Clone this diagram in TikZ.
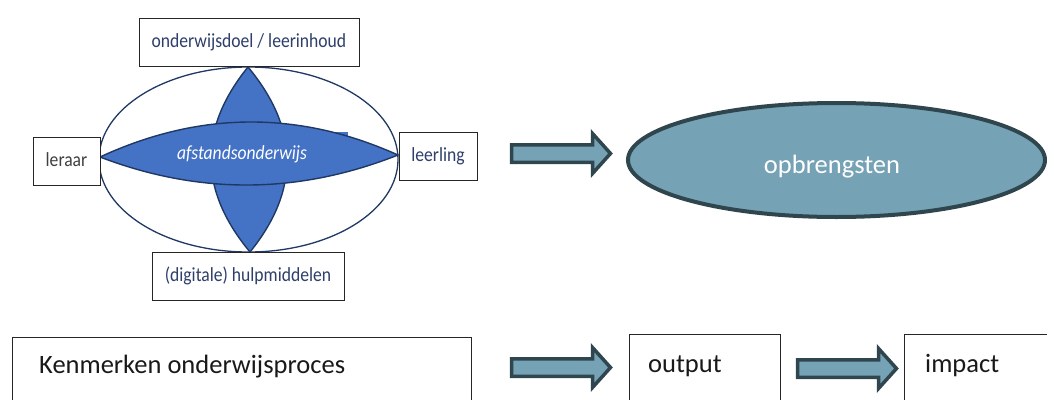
\documentclass[tikz,border=0pt]{standalone}
\usepackage{fontspec}
\setmainfont{Carlito}
\newfontfamily\condfont[FakeStretch=0.88]{Carlito}
\usetikzlibrary{shapes.geometric}
\definecolor{navy}{HTML}{203864}
\definecolor{lensblue}{HTML}{4472C4}
\definecolor{slate}{HTML}{76A2B5}
\definecolor{slatedark}{HTML}{2F464E}
\definecolor{boxtext}{HTML}{2F3F6B}
\tikzset{
  diabox/.style={draw=black!85, line width=1pt, fill=white, inner sep=0pt,
    font=\condfont\fontsize{20}{24}\selectfont, text=boxtext,
    text height=14pt, text depth=4pt},
  plainbox/.style={draw=black!85, line width=1pt, fill=white, inner sep=0pt, anchor=north west},
  bigtext/.style={anchor=base west, inner sep=0pt, font=\fontsize{26.5}{30}\selectfont, text=black!90},
  arrowshape/.style={fill=slate, draw=slatedark, line width=3.5pt, line join=miter},
  blockarrow/.pic={\draw[arrowshape] (0,-8.75) -- (81,-8.75) -- (81,-20) -- (99,0) -- (81,20) -- (81,8.75) -- (0,8.75) -- cycle;}
}
\begin{document}
\begin{tikzpicture}[x=1pt,y=-1pt]
\useasboundingbox (0,0) rectangle (1047,399);
\clip (0,0) rectangle (1047,399);
% big ellipse
\node[ellipse, draw=navy, line width=1.3pt, fill=white, inner sep=0pt,
      minimum width=299pt, minimum height=185pt] (outer) at (248.5,159.5) {};
% vertical lens
\draw[fill=lensblue, draw=navy, line width=1.4pt]
  (248,67) .. controls (198,128.67) and (198.67,190.33) .. (250,252)
  .. controls (300,190.33) and (299.33,128.67) .. (248,67) -- cycle;
% horizontal lens
\fill[lensblue]
  (100,157) .. controls (199.33,111) and (298.67,110.33) .. (398,155)
  .. controls (298.67,194.33) and (199.33,195) .. (100,157) -- cycle;
\fill[lensblue] (168,131.5) rectangle (348,160);
\draw[draw=navy, line width=1.4pt]
  (100,157) .. controls (199.33,111) and (298.67,110.33) .. (398,155)
  .. controls (298.67,194.33) and (199.33,195) .. (100,157) -- cycle;
\node[font=\condfont\itshape\fontsize{20}{24}\selectfont, text=white,
      text height=14pt, text depth=4pt, inner sep=0pt] (lenstxt) at (242,154) {afstandsonderwijs};
% boxes around
\node[diabox, minimum width=220pt, minimum height=48pt] (doel) at (249,42) {onderwijsdoel / leerinhoud};
\node[diabox, minimum width=67pt, minimum height=48pt, text=black!75] (leraar) at (66.5,161) {leraar};
\node[diabox, minimum width=78pt, minimum height=48pt] (leerling) at (438,156) {leerling};
\node[diabox, minimum width=192pt, minimum height=48pt] (hulp) at (248,276) {(digitale) hulpmiddelen};
% arrow and opbrengsten
\pic at (511.5,153.5) {blockarrow};
\node[ellipse, draw=slatedark, line width=4pt, fill=slate, inner sep=0pt,
      minimum width=417pt, minimum height=114pt] (opb) at (836.5,160) {};
\node[anchor=base, inner sep=0pt, font=\fontsize{26.5}{30}\selectfont, text=white] (opbt) at (832,173) {opbrengsten};
% bottom row
\node[plainbox, minimum width=459pt, minimum height=80pt] (kenm) at (12,337) {};
\node[bigtext] (kenmt) at (39,373) {Kenmerken onderwijsproces};
\pic at (511.5,367.5) {blockarrow};
\node[plainbox, minimum width=151pt, minimum height=80pt] (outp) at (629,334) {};
\node[bigtext] (outpt) at (648,372.5) {output};
\pic at (797.5,368.5) {blockarrow};
\node[plainbox, minimum width=200pt, minimum height=80pt] (imp) at (904,334) {};
\node[bigtext] (impt) at (925,372.5) {impact};
\end{tikzpicture}
\end{document}
